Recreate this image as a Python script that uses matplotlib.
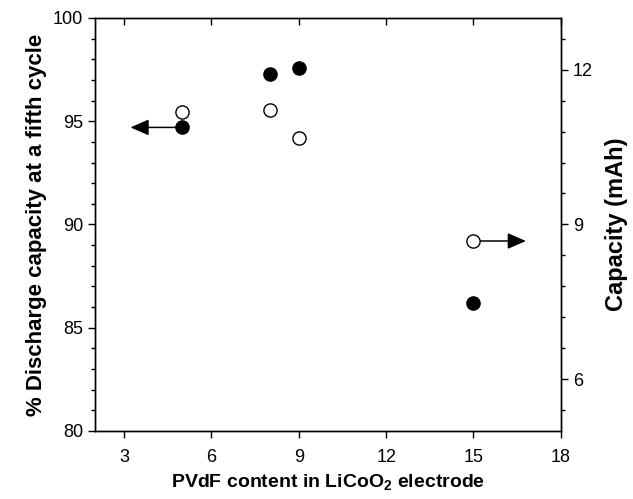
import matplotlib
matplotlib.use("Agg")
import matplotlib.pyplot as plt
from matplotlib.ticker import MultipleLocator, FixedLocator

plt.rcParams['font.family'] = ['Liberation Sans', 'DejaVu Sans']
plt.rcParams['mathtext.fontset'] = 'custom'
plt.rcParams['mathtext.rm'] = 'Liberation Sans'
plt.rcParams['mathtext.bf'] = 'Liberation Sans:bold'

# Data
pvdf = [5, 8, 9, 15]
discharge_pct = [94.7, 97.3, 97.6, 86.2]
capacity_mah = [11.18, 11.22, 10.67, 8.68]

x_ticks = [3, 6, 9, 12, 15, 18]
left_ticks = [80, 85, 90, 95, 100]
right_ticks = [6, 9, 12]

fig = plt.figure(figsize=(6.33, 4.99), dpi=100)
ax = fig.add_axes([0.150, 0.1363, 0.736, 0.8277])
ax2 = ax.twinx()

ax.set_xlim(2, 18)
ax.set_ylim(80, 100)
ax2.set_ylim(5, 13)

ax.xaxis.set_major_locator(FixedLocator(x_ticks))
ax.yaxis.set_major_locator(FixedLocator(left_ticks))
ax.yaxis.set_minor_locator(MultipleLocator(1))
ax2.yaxis.set_major_locator(FixedLocator(right_ticks))
ax2.yaxis.set_minor_locator(MultipleLocator(0.6))

ax.tick_params(axis='x', which='major', direction='out', length=5, width=1,
               labelsize=13, top=False, pad=8)
ax.tick_params(axis='y', which='major', direction='out', length=5, width=1, labelsize=13)
ax.tick_params(axis='y', which='minor', direction='out', length=3, width=1)
ax2.tick_params(axis='y', which='major', direction='out', length=5, width=1, labelsize=13)
ax2.tick_params(axis='y', which='minor', direction='out', length=3, width=1)

# inward ticks on the top edge
axt = ax.secondary_xaxis('top')
axt.xaxis.set_major_locator(FixedLocator(x_ticks))
axt.tick_params(direction='in', length=5, width=1, labeltop=False)
axt.spines['top'].set_visible(False)

for sp in list(ax.spines.values()) + list(ax2.spines.values()):
    sp.set_linewidth(1)

ms = 9.5
ax.plot(pvdf, discharge_pct, linestyle='none', marker='o', markersize=ms,
        markerfacecolor='black', markeredgecolor='black', zorder=5)
ax2.plot(pvdf, capacity_mah, linestyle='none', marker='o', markersize=ms,
         markerfacecolor='white', markeredgecolor='black', markeredgewidth=1, zorder=5)

# arrows indicating which axis each series belongs to
astyle = '-|>,head_length=0.8,head_width=0.35'
ax.annotate('', xy=(3.22, discharge_pct[0]), xytext=(pvdf[0], discharge_pct[0]),
            arrowprops=dict(arrowstyle=astyle, color='black', lw=1.1,
                            shrinkA=0, shrinkB=0, mutation_scale=14), zorder=3)
ax2.annotate('', xy=(16.8, capacity_mah[3]), xytext=(pvdf[3] + 0.22, capacity_mah[3]),
             arrowprops=dict(arrowstyle=astyle, color='black', lw=1.1,
                             shrinkA=0, shrinkB=0, mutation_scale=14), zorder=3)

ax.set_xlabel(r'PVdF content in LiCoO$_{\mathbf{2}}$ electrode', fontsize=14,
              fontweight='bold', labelpad=5)
ax.set_ylabel('% Discharge capacity at a fifth cycle', fontsize=16, fontweight='bold',
              labelpad=4)
ax2.set_ylabel('Capacity (mAh)', fontsize=17, fontweight='bold', labelpad=9)

fig.savefig('out.png', dpi=100)
